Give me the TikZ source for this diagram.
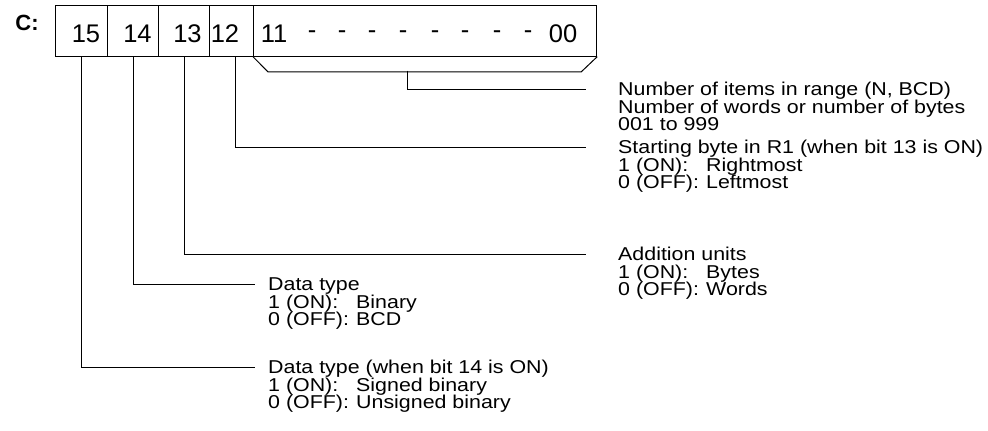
\documentclass[tikz,border=0pt]{standalone}
\usepackage{fontspec}
\setmainfont{Liberation Sans}
\newfontfamily\lblfont[FakeStretch=1.15]{Liberation Sans}
\usetikzlibrary{calc}
\newcommand\onoff[2]{\makebox[88pt][l]{#1}#2}
\newcommand\labelblock[6]{%
  \node[lbl, inner xsep=#2, anchor=west] (#1a) at #3 {#4};
  \node[lbl, inner xsep=#2, anchor=base west] (#1b) at ($(#1a.base west)+(0,17.5)$) {#5};
  \node[lbl, inner xsep=#2, anchor=base west] (#1c) at ($(#1b.base west)+(0,17.5)$) {#6};}
\begin{document}
\begin{tikzpicture}[x=1pt,y=-1pt,
  cell/.style={draw, line width=1.2pt, inner sep=0pt, minimum height=50.5pt, anchor=north west},
  digit/.style={font=\fontsize{25.5}{25.5}\selectfont, inner sep=0pt},
  lbl/.style={font=\lblfont\fontsize{18.6}{17.5}\selectfont, inner ysep=0pt, text height=13.3pt, text depth=0pt},
  conn/.style={line width=1pt}]
\useasboundingbox (0,0) rectangle (988,431);
% register
\node[font=\bfseries\fontsize{22}{22}\selectfont, inner sep=0pt] (cl) at (27,22.5) {C:};
\node[cell, minimum width=52pt] (c15) at (55,5) {};
\node[cell, minimum width=51pt] (c14) at (107,5) {};
\node[cell, minimum width=51pt] (c13) at (158,5) {};
\node[cell, minimum width=44pt] (c12) at (209,5) {};
\node[cell, minimum width=343pt] (c11) at (253,5) {};
\node[digit] (n15) at (86,34) {15};
\node[digit] (n14) at (137.5,34) {14};
\node[digit] (n13) at (187.5,34) {13};
\node[digit] (n12) at (225,34) {12};
\node[digit] (n11) at (274,34) {11};
\node[digit] (n00) at (563,34) {00};
\foreach \i/\x in {1/312,2/342,3/372,4/403,5/435,6/465,7/497,8/528}
  \node[digit] (dash\i) at (\x,35) {-};
% labels
\labelblock{t00}{32pt}{(586,89)}{Number of items in range (N, BCD)}{Number of words or number of bytes}{001 to 999}
\labelblock{t12}{32pt}{(586,147)}{Starting byte in R1 (when bit 13 is ON)}{\onoff{1 (ON):}{Rightmost}}{\onoff{0 (OFF):}{Leftmost}}
\labelblock{t13}{32pt}{(586,254)}{Addition units}{\onoff{1 (ON):}{Bytes}}{\onoff{0 (OFF):}{Words}}
\labelblock{t14}{13pt}{(255,284)}{Data type}{\onoff{1 (ON):}{Binary}}{\onoff{0 (OFF):}{BCD}}
\labelblock{t15}{13pt}{(255,367)}{Data type (when bit 14 is ON)}{\onoff{1 (ON):}{Signed binary}}{\onoff{0 (OFF):}{Unsigned binary}}
% bracket for bits 11-00
\coordinate (bl) at ($(c11.south west)+(15,15.2)$);
\coordinate (br) at ($(c11.south east)+(-16,15.2)$);
\coordinate (stem) at (407,70.7);
\draw[conn] (c11.south west) -- (bl) -- (br) -- (c11.south east);
\draw[conn] (stem) |- (t00a.west);
% bit connectors
\coordinate (p12) at ($(c12.south)+(4,0)$);
\draw[conn] (p12) |- (t12a.west);
\draw[conn] (c13.south) |- (t13a.west);
\draw[conn] (c14.south) |- (t14a.west);
\draw[conn] (c15.south) |- (t15a.west);
\end{tikzpicture}
\end{document}
